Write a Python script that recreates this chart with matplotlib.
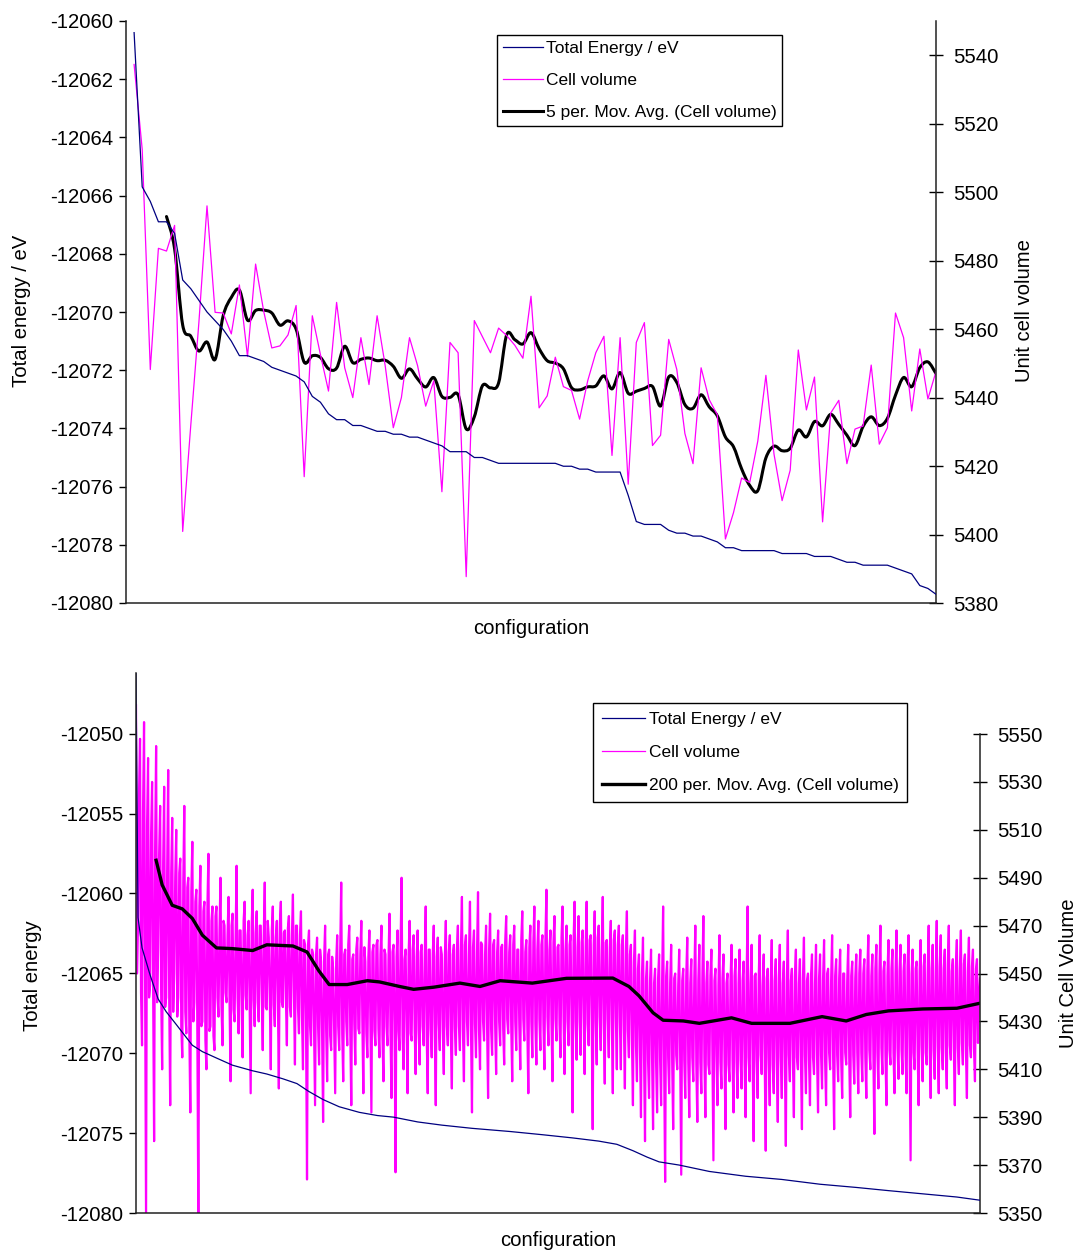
import numpy as np
import pandas as pd
import matplotlib
matplotlib.use('Agg')
import matplotlib.pyplot as plt
from matplotlib.path import Path
from matplotlib.patches import PathPatch
from matplotlib.lines import Line2D

plt.rcParams['font.family'] = ['Liberation Sans', 'DejaVu Sans']
plt.rcParams['axes.unicode_minus'] = False

# ---- top chart: 100 configurations ----
energy_top = [
    -12060.4, -12065.7, -12066.2, -12066.9, -12066.9, -12067.3, -12068.9, -12069.2, -12069.6, -12070.0,
    -12070.3, -12070.6, -12071.0, -12071.5, -12071.5, -12071.6, -12071.7, -12071.9, -12072.0, -12072.1,
    -12072.2, -12072.4, -12072.9, -12073.1, -12073.5, -12073.7, -12073.7, -12073.9, -12073.9, -12074.0,
    -12074.1, -12074.1, -12074.2, -12074.2, -12074.3, -12074.3, -12074.4, -12074.5, -12074.6, -12074.8,
    -12074.8, -12074.8, -12075.0, -12075.0, -12075.1, -12075.2, -12075.2, -12075.2, -12075.2, -12075.2,
    -12075.2, -12075.2, -12075.2, -12075.3, -12075.3, -12075.4, -12075.4, -12075.5, -12075.5, -12075.5,
    -12075.5, -12076.3, -12077.2, -12077.3, -12077.3, -12077.3, -12077.5, -12077.6, -12077.6, -12077.7,
    -12077.7, -12077.8, -12077.9, -12078.1, -12078.1, -12078.2, -12078.2, -12078.2, -12078.2, -12078.2,
    -12078.3, -12078.3, -12078.3, -12078.3, -12078.4, -12078.4, -12078.4, -12078.5, -12078.6, -12078.6,
    -12078.7, -12078.7, -12078.7, -12078.7, -12078.8, -12078.9, -12079.0, -12079.4, -12079.5, -12079.7,
]
volume_top = [
    5537.3, 5512.5, 5448.2, 5483.6, 5482.8, 5490.3, 5400.9, 5432.0, 5462.0, 5496.0,
    5464.9, 5464.7, 5458.6, 5472.9, 5452.0, 5479.0, 5465.2, 5454.5, 5455.1, 5458.3,
    5466.9, 5416.9, 5463.9, 5452.6, 5441.9, 5467.8, 5448.7, 5440.0, 5457.5, 5443.8,
    5463.9, 5449.3, 5431.2, 5440.0, 5457.5, 5449.3, 5437.5, 5444.9, 5412.5, 5456.1,
    5453.1, 5387.7, 5462.5, 5457.8, 5453.1, 5460.3, 5458.1, 5455.3, 5451.5, 5469.6,
    5437.0, 5440.5, 5451.8, 5443.2, 5442.1, 5433.7, 5444.9, 5453.1, 5457.9, 5423.1,
    5457.5, 5414.7, 5456.1, 5461.9, 5426.0, 5429.0, 5457.0, 5448.2, 5429.5, 5420.7,
    5448.7, 5439.4, 5435.0, 5398.7, 5406.4, 5416.5, 5415.2, 5427.3, 5446.5, 5423.5,
    5409.9, 5418.8, 5453.9, 5436.4, 5446.0, 5403.7, 5435.5, 5439.2, 5420.7, 5430.8,
    5431.7, 5449.5, 5426.4, 5431.2, 5464.7, 5457.5, 5436.1, 5454.2, 5439.6, 5447.6,
]

# ---- bottom chart: long run, cell volume read as swings (peaks) and dense core ----
volume_bot_peaks = (
    [5562, 5470, 5548, 5420, 5555, 5347, 5540, 5445, 5530, 5380, 5545, 5460, 5520, 5410, 5528, 5440, 5535, 5395, 5515, 5450]
    + [5510, 5440, 5498, 5415, 5520, 5425, 5490, 5392, 5505, 5438, 5485, 5346, 5495, 5430, 5480, 5410, 5500, 5428, 5478, 5418]
    + [5478, 5432, 5490, 5420, 5470, 5438, 5482, 5405, 5475, 5430, 5495, 5425, 5468, 5415, 5480, 5435, 5472, 5400, 5485, 5428]
    + [5476, 5430, 5470, 5418, 5488, 5435, 5465, 5410, 5478, 5428, 5472, 5402, 5480, 5436, 5468, 5420, 5474, 5432, 5483, 5412]
    + [5470, 5425, 5476, 5410, 5462, 5364, 5468, 5420, 5458, 5395, 5465, 5412, 5455, 5388, 5470, 5405, 5460, 5418, 5452, 5400]
    + [5466, 5418, 5488, 5405, 5460, 5420, 5470, 5395, 5458, 5412, 5465, 5425, 5472, 5400, 5455, 5415, 5468, 5392, 5462, 5420]
    + [5464, 5415, 5470, 5405, 5458, 5420, 5475, 5398, 5462, 5367, 5468, 5418, 5490, 5410, 5460, 5400, 5472, 5422, 5466, 5408]
    + [5468, 5412, 5462, 5420, 5478, 5400, 5460, 5415, 5470, 5395, 5465, 5418, 5458, 5408, 5472, 5420, 5466, 5402, 5462, 5416]
    + [5470, 5418, 5482, 5405, 5466, 5420, 5480, 5392, 5468, 5415, 5484, 5410, 5462, 5422, 5470, 5398, 5475, 5416, 5464, 5408]
    + [5468, 5420, 5462, 5412, 5474, 5425, 5466, 5405, 5470, 5418, 5460, 5410, 5476, 5422, 5464, 5400, 5470, 5415, 5478, 5412]
    + [5472, 5418, 5466, 5410, 5485, 5420, 5468, 5405, 5474, 5422, 5462, 5415, 5478, 5408, 5470, 5420, 5466, 5392, 5480, 5414]
    + [5474, 5416, 5468, 5408, 5480, 5420, 5466, 5385, 5476, 5412, 5470, 5418, 5482, 5404, 5464, 5415, 5472, 5400, 5468, 5410]
    + [5470, 5410, 5466, 5402, 5476, 5415, 5462, 5395, 5468, 5405, 5458, 5390, 5465, 5380, 5455, 5398, 5460, 5385, 5452, 5392]
    + [5458, 5395, 5478, 5363, 5455, 5400, 5462, 5385, 5450, 5410, 5460, 5366, 5452, 5398, 5465, 5390, 5456, 5405, 5470, 5388]
    + [5462, 5400, 5474, 5390, 5455, 5408, 5460, 5372, 5452, 5395, 5466, 5402, 5458, 5385, 5450, 5405, 5462, 5392, 5456, 5398]
    + [5460, 5402, 5455, 5390, 5478, 5405, 5462, 5380, 5450, 5398, 5466, 5408, 5458, 5376, 5452, 5395, 5464, 5400, 5456, 5388]
    + [5462, 5398, 5455, 5378, 5468, 5405, 5452, 5390, 5460, 5410, 5456, 5385, 5465, 5400, 5450, 5395, 5458, 5408, 5462, 5392]
    + [5458, 5402, 5464, 5395, 5452, 5410, 5466, 5385, 5456, 5405, 5460, 5398, 5450, 5412, 5462, 5390, 5455, 5404, 5458, 5400]
    + [5460, 5405, 5456, 5398, 5466, 5410, 5458, 5383, 5462, 5402, 5470, 5408, 5455, 5395, 5464, 5412, 5460, 5400, 5468, 5406]
    + [5462, 5408, 5458, 5400, 5466, 5372, 5460, 5410, 5455, 5395, 5464, 5405, 5458, 5412, 5470, 5398, 5462, 5406, 5472, 5400]
    + [5466, 5410, 5460, 5402, 5470, 5414, 5456, 5395, 5464, 5408, 5468, 5412, 5458, 5398, 5465, 5415, 5460, 5405, 5456, 5440]
)
volume_bot_core = (
    [5450, 5525, 5442, 5518, 5448, 5512, 5440, 5508, 5445, 5502, 5438, 5500, 5442, 5496, 5436, 5494, 5440, 5492, 5434, 5490]
    + [5432, 5492, 5428, 5488, 5434, 5486, 5426, 5484, 5430, 5480, 5424, 5478, 5428, 5476, 5422, 5478, 5426, 5472, 5424, 5474]
    + [5440, 5468, 5436, 5472, 5442, 5466, 5438, 5470, 5435, 5465, 5440, 5468, 5437, 5472, 5441, 5466, 5436, 5470, 5439, 5467]
    + [5438, 5470, 5442, 5466, 5436, 5472, 5440, 5468, 5437, 5465, 5441, 5471, 5438, 5467, 5440, 5469, 5436, 5466, 5442, 5470]
    + [5436, 5466, 5432, 5464, 5430, 5462, 5428, 5460, 5426, 5458, 5428, 5460, 5425, 5456, 5427, 5458, 5424, 5457, 5426, 5455]
    + [5428, 5460, 5425, 5458, 5430, 5462, 5426, 5456, 5429, 5460, 5427, 5458, 5430, 5461, 5425, 5457, 5428, 5459, 5426, 5462]
    + [5427, 5458, 5424, 5460, 5428, 5456, 5425, 5459, 5429, 5457, 5426, 5461, 5424, 5456, 5428, 5458, 5425, 5460, 5427, 5457]
    + [5426, 5459, 5428, 5456, 5424, 5460, 5427, 5458, 5425, 5457, 5429, 5461, 5426, 5456, 5428, 5459, 5424, 5458, 5427, 5460]
    + [5428, 5460, 5426, 5462, 5430, 5458, 5427, 5461, 5429, 5459, 5426, 5463, 5430, 5458, 5428, 5460, 5427, 5462, 5429, 5459]
    + [5430, 5461, 5427, 5463, 5431, 5459, 5428, 5462, 5430, 5460, 5429, 5464, 5431, 5459, 5428, 5461, 5430, 5463, 5429, 5460]
    + [5431, 5462, 5429, 5464, 5432, 5460, 5430, 5463, 5431, 5461, 5429, 5465, 5432, 5460, 5430, 5462, 5431, 5464, 5430, 5461]
    + [5430, 5463, 5432, 5461, 5429, 5464, 5431, 5462, 5430, 5465, 5432, 5460, 5429, 5463, 5431, 5461, 5430, 5464, 5432, 5462]
    + [5430, 5462, 5428, 5460, 5426, 5458, 5422, 5455, 5420, 5452, 5418, 5450, 5416, 5448, 5414, 5447, 5415, 5446, 5413, 5448]
    + [5414, 5447, 5412, 5449, 5415, 5446, 5413, 5448, 5416, 5445, 5412, 5447, 5414, 5449, 5413, 5446, 5415, 5448, 5412, 5447]
    + [5413, 5448, 5415, 5446, 5412, 5449, 5414, 5447, 5416, 5445, 5413, 5448, 5415, 5446, 5412, 5447, 5414, 5449, 5413, 5446]
    + [5414, 5447, 5412, 5448, 5415, 5446, 5413, 5449, 5414, 5447, 5416, 5445, 5413, 5448, 5415, 5446, 5412, 5447, 5414, 5448]
    + [5415, 5446, 5413, 5448, 5416, 5447, 5414, 5449, 5415, 5446, 5413, 5448, 5416, 5447, 5414, 5449, 5415, 5446, 5416, 5448]
    + [5416, 5448, 5414, 5450, 5417, 5447, 5415, 5449, 5416, 5448, 5414, 5450, 5417, 5447, 5415, 5449, 5416, 5448, 5417, 5450]
    + [5417, 5450, 5415, 5451, 5418, 5449, 5416, 5452, 5417, 5450, 5419, 5451, 5416, 5449, 5418, 5452, 5417, 5450, 5419, 5451]
    + [5418, 5451, 5416, 5453, 5419, 5450, 5417, 5452, 5418, 5451, 5420, 5453, 5417, 5450, 5419, 5452, 5418, 5451, 5420, 5453]
    + [5419, 5452, 5417, 5454, 5420, 5451, 5418, 5453, 5419, 5452, 5421, 5454, 5418, 5451, 5420, 5453, 5419, 5452, 5421, 5448]
)
energy_bot_idx = [0, 2, 6, 14, 22, 30, 40, 56, 66, 80, 96, 116, 130, 146, 160, 172, 186, 202, 222, 240,
                  256, 280, 304, 334, 372, 404, 434, 460, 478, 494, 508, 520, 540, 570, 606, 642, 680, 716, 748, 782,
                  816, 839]
energy_bot = [-12046.2, -12061.5, -12063.4, -12065.1, -12066.6, -12067.4, -12068.2, -12069.5, -12069.9, -12070.3,
              -12070.75, -12071.1, -12071.3, -12071.6, -12071.9, -12072.4, -12072.9, -12073.35, -12073.7, -12073.9,
              -12074.0, -12074.3, -12074.5, -12074.7, -12074.9, -12075.1, -12075.3, -12075.5, -12075.7, -12076.1,
              -12076.5, -12076.8, -12077.0, -12077.4, -12077.7, -12077.9, -12078.2, -12078.4, -12078.6, -12078.8,
              -12079.0, -12079.2]
avg_bot_idx = [20, 26, 36, 46, 56, 66, 80, 96, 116, 130, 156, 170, 182, 192, 210, 230, 242, 262, 276, 296,
               322, 342, 362, 394, 428, 474, 490, 500, 514, 524, 544, 560, 592, 612, 650, 682, 706, 726, 748, 782,
               816, 839]
avg_bot = [5497.3, 5487, 5478.5, 5477, 5473, 5466, 5460.7, 5460.4, 5459.6, 5462,
           5461.5, 5459, 5451, 5445.4, 5445.4, 5447, 5446.5, 5444.6, 5443.4, 5444.3,
           5446, 5444.6, 5447, 5446, 5448, 5448.1, 5444.6, 5440.7, 5433.6, 5430.5,
           5430.2, 5429.2, 5431.5, 5429.2, 5429.2, 5432, 5430.2, 5432.9, 5434.4, 5435.2,
           5435.5, 5437.6]

NAVY = '#000080'
MAG = '#ff00ff'
FS = 14.6

W, H = 1077, 1250
fig = plt.figure(figsize=(W / 100, H / 100), dpi=100)


def box(l, t, r, b):
    return [l / W, 1 - b / H, (r - l) / W, (b - t) / H]


def smooth_line(ax, x, y, **kw):
    # excel style smoothed line: catmull-rom segments as cubic beziers
    x = np.asarray(x, float)
    y = np.asarray(y, float)
    ok = ~np.isnan(y)
    x, y = x[ok], y[ok]
    pts = np.column_stack([x, y])
    verts = [pts[0]]
    codes = [Path.MOVETO]
    for i in range(len(pts) - 1):
        p0 = pts[i - 1] if i > 0 else pts[i]
        p1 = pts[i]
        p2 = pts[i + 1]
        p3 = pts[i + 2] if i + 2 < len(pts) else pts[i + 1]
        verts += [p1 + (p2 - p0) / 6, p2 - (p3 - p1) / 6, p2]
        codes += [Path.CURVE4] * 3
    patch = PathPatch(Path(verts, codes), fill=False, **kw)
    ax.add_patch(patch)
    return patch


def style_axes(ax, ax2, right_bounds=None):
    ax.spines['top'].set_visible(False)
    ax2.spines['top'].set_visible(False)
    ax2.spines['left'].set_visible(False)
    ax2.spines['bottom'].set_visible(False)
    ax.spines['right'].set_visible(False)
    for s in ['left', 'bottom']:
        ax.spines[s].set_linewidth(1.1)
        ax.spines[s].set_color('#222222')
    ax2.spines['right'].set_linewidth(1.1)
    ax2.spines['right'].set_color('#222222')
    if right_bounds is not None:
        ax2.spines['right'].set_bounds(*right_bounds)
    ax.set_xticks([])
    ax.tick_params(axis='y', direction='out', length=5, width=1, pad=4, labelsize=FS)
    ax2.tick_params(axis='y', direction='inout', length=10, width=1, pad=7, labelsize=FS)
    ax.set_zorder(ax2.get_zorder() + 1)
    ax.patch.set_visible(False)


# ---------- top chart ----------
ax = fig.add_axes(box(126, 21, 936, 603))
ax2 = ax.twinx()
xt = np.arange(len(volume_top))
avg_top = pd.Series(volume_top).rolling(5).mean()

l1, = ax.plot(xt, energy_top, color=NAVY, lw=0.9)
l2, = ax2.plot(xt, volume_top, color=MAG, lw=0.9)
smooth_line(ax2, xt, avg_top, edgecolor='black', lw=2.2, capstyle='round', joinstyle='round')
l3 = Line2D([], [], color='black', lw=2.2)
ax.set_xlim(-1, 99)
ax.set_ylim(-12080, -12060)
ax.set_yticks(np.arange(-12080, -12059, 2))
ax2.set_ylim(5380, 5550)
ax2.set_yticks(np.arange(5380, 5541, 20))
style_axes(ax, ax2)

fig.legend([l1, l2, l3], ['Total Energy / eV', 'Cell volume', '5 per. Mov. Avg. (Cell volume)'],
           loc='upper left', bbox_to_anchor=(497 / W, 1 - 35 / H), borderaxespad=0,
           fontsize=12.5, frameon=True, fancybox=False, framealpha=1, edgecolor='black',
           handlelength=2.3, handletextpad=0.15, labelspacing=0.97, borderpad=0.35)

fig.text(22 / W, 1 - 311 / H, 'Total energy / eV', rotation=90, ha='center', va='center', fontsize=FS)
fig.text(1025 / W, 1 - 311 / H, 'Unit cell volume', rotation=90, ha='center', va='center', fontsize=FS)
fig.text(531 / W, 1 - 629 / H, 'configuration', ha='center', va='center', fontsize=FS)

# ---------- bottom chart ----------
bx = fig.add_axes(box(136, 673, 980, 1213))
bx2 = bx.twinx()
volume_bot = np.column_stack([volume_bot_peaks, volume_bot_core]).ravel()
xb = np.arange(len(volume_bot))

m1, = bx.plot(energy_bot_idx, energy_bot, color=NAVY, lw=0.9)
m2, = bx2.plot(xb, volume_bot, color=MAG, lw=1.6)
m3, = bx2.plot(avg_bot_idx, avg_bot, color='black', lw=2.4)
bx.set_xlim(0, len(volume_bot) - 1)
bx.set_ylim(-12080, -12046.2)
bx.set_yticks(np.arange(-12080, -12049, 5))
bx2.set_ylim(5350, 5575.5)
bx2.set_yticks(np.arange(5350, 5551, 20))
style_axes(bx, bx2, right_bounds=(5350, 5550))

leg_m2 = Line2D([], [], color=MAG, lw=0.9)
fig.legend([m1, leg_m2, m3], ['Total Energy / eV', 'Cell volume', '200 per. Mov. Avg. (Cell volume)'],
           loc='upper left', bbox_to_anchor=(593 / W, 1 - 703 / H), borderaxespad=0,
           fontsize=12.5, frameon=True, fancybox=False, framealpha=1, edgecolor='black',
           handlelength=2.5, handletextpad=0.2, labelspacing=1.04, borderpad=0.5)

fig.text(32 / W, 1 - 976 / H, 'Total energy', rotation=90, ha='center', va='center', fontsize=FS)
fig.text(1068 / W, 1 - 973 / H, 'Unit Cell Volume', rotation=90, ha='center', va='center', fontsize=FS)
fig.text(558 / W, 1 - 1240 / H, 'configuration', ha='center', va='center', fontsize=FS)

fig.savefig('out.png', dpi=100)
